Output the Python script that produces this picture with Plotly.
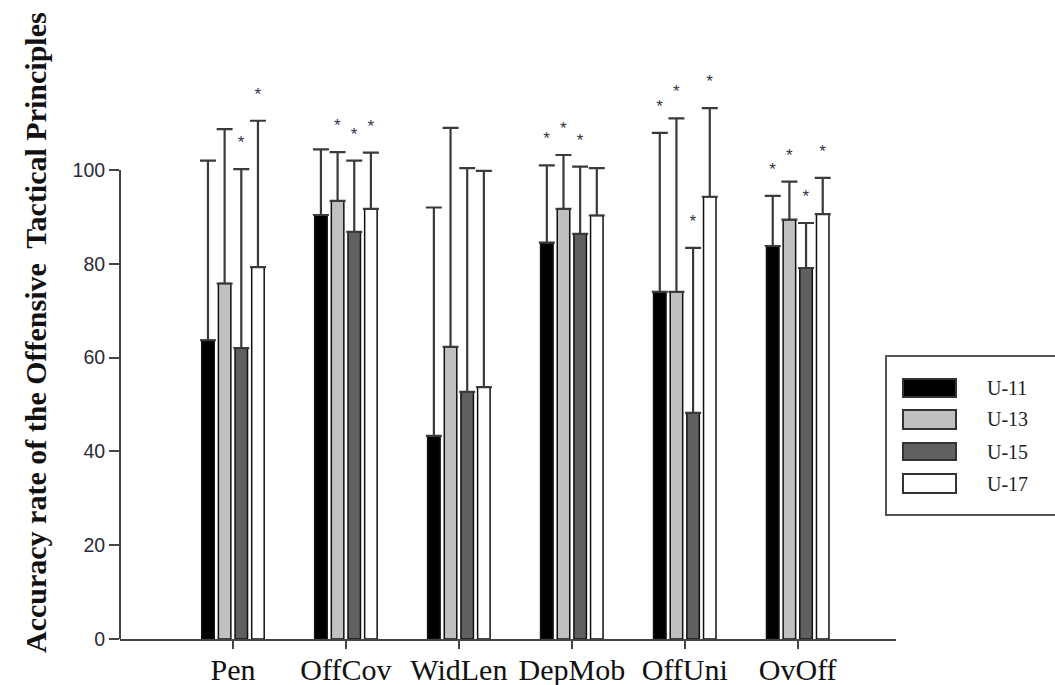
import plotly.graph_objects as go

categories = ["Pen", "OffCov", "WidLen", "DepMob", "OffUni", "OvOff"]
groups = ["U-11", "U-13", "U-15", "U-17"]

u11_mean = [63.7, 90.4, 43.3, 84.5, 74.0, 83.8]
u13_mean = [75.8, 93.4, 62.3, 91.7, 74.0, 89.4]
u15_mean = [62.0, 86.8, 52.7, 86.4, 48.2, 79.1]
u17_mean = [79.3, 91.7, 53.7, 90.3, 94.3, 90.6]

u11_sd = [38.3, 14.0, 48.7, 16.5, 33.9, 10.7]
u13_sd = [32.9, 10.4, 46.7, 11.5, 37.0, 8.1]
u15_sd = [38.2, 15.2, 47.7, 14.3, 35.2, 9.6]
u17_sd = [31.2, 12.0, 46.1, 10.1, 18.9, 7.7]

# significance markers (1 = asterisk shown)
u11_sig = [0, 0, 0, 1, 1, 1]
u13_sig = [0, 1, 0, 1, 1, 1]
u15_sig = [1, 1, 0, 1, 1, 1]
u17_sig = [1, 1, 0, 0, 1, 1]

y_ticks = [0, 20, 40, 60, 80, 100]

means = [u11_mean, u13_mean, u15_mean, u17_mean]
sds = [u11_sd, u13_sd, u15_sd, u17_sd]
sigs = [u11_sig, u13_sig, u15_sig, u17_sig]
fills = ["#000000", "#c0c0c0", "#606060", "#ffffff"]

W, H = 1055, 685
ML, MR, MT, MB = 120, 159, 30, 46
PW, PH = W - ML - MR, H - MT - MB
PX_PER_UNIT = 4.69
YMAX = PH / PX_PER_UNIT
STAR_GAP = 3.0  # gap (data units) between error cap and asterisk


def px(x):
    return (x - ML) / PW


def py(y):
    return (H - MB - y) / PH


fig = go.Figure()

for g, m, s, sig, c in zip(groups, means, sds, sigs, fills):
    fig.add_trace(go.Bar(
        x=categories, y=m, name=g, offsetgroup=g,
        marker=dict(color=c, line=dict(color="#111111", width=1.5)),
        error_y=dict(type="data", array=s, symmetric=False,
                     arrayminus=[0] * len(s), color="#3a3a3a",
                     thickness=2.2, width=8),
        showlegend=False,
    ))

for g, m, s, sig in zip(groups, means, sds, sigs):
    upper = [mm + ss for mm, ss in zip(m, s)]
    fig.add_trace(go.Bar(
        x=categories, y=[STAR_GAP] * len(upper), base=upper, offsetgroup=g,
        marker=dict(color="rgba(0,0,0,0)", line=dict(width=0)),
        text=["*" if f else "" for f in sig],
        textposition="outside",
        textfont=dict(family="Liberation Sans", size=17, color="#333344"),
        cliponaxis=False, showlegend=False, hoverinfo="skip",
    ))

shapes = []
# y axis line from 0 to 100
shapes.append(dict(type="line", xref="paper", yref="y", x0=0, x1=0,
                   y0=0, y1=100, line=dict(color="#444444", width=2)))

# manual legend
shapes.append(dict(type="rect", xref="paper", yref="paper",
                   x0=px(886), x1=px(1062), y0=py(515), y1=py(356),
                   line=dict(color="#555555", width=2), fillcolor="white"))
rows = [(379, 397), (410, 429), (443, 460), (474, 493)]
annotations = []
for (t, b), c, g in zip(rows, fills, groups):
    shapes.append(dict(type="rect", xref="paper", yref="paper",
                       x0=px(903), x1=px(956), y0=py(b), y1=py(t),
                       line=dict(color="#333333", width=2), fillcolor=c))
    annotations.append(dict(xref="paper", yref="paper", x=px(985),
                            y=py((t + b) / 2), text=g, showarrow=False,
                            xanchor="left", yanchor="middle",
                            font=dict(family="Liberation Serif", size=20,
                                      color="#222222")))

annotations.append(dict(xref="paper", yref="paper", x=px(36), y=py(333),
                        text="<b>Accuracy rate of the Offensive  Tactical Principles</b>",
                        textangle=-90, showarrow=False,
                        xanchor="center", yanchor="middle",
                        font=dict(family="Liberation Serif", size=30,
                                  color="#111111")))

fig.update_layout(
    width=W, height=H,
    margin=dict(l=ML, r=MR, t=MT, b=MB),
    template="none",
    paper_bgcolor="white", plot_bgcolor="white",
    barmode="group", bargap=0.41, bargroupgap=0.25,
    shapes=shapes, annotations=annotations,
    showlegend=False,
)
fig.update_xaxes(
    type="category", range=[-1.0, 5.87], automargin=False,
    showline=True, linecolor="#444444", linewidth=2,
    ticks="outside", ticklen=8, tickwidth=2, tickcolor="#444444",
    showgrid=False, zeroline=False, ticklabelstandoff=-5,
    tickfont=dict(family="Liberation Serif", size=30, color="#111111"),
)
fig.update_yaxes(
    range=[0, YMAX], automargin=False,
    tickvals=y_ticks, ticktext=[str(v) for v in y_ticks],
    showline=False, showgrid=False, zeroline=False,
    ticks="outside", ticklen=10, tickwidth=2, tickcolor="#444444",
    tickfont=dict(family="Liberation Sans", size=19.5, color="#2a2a3a"),
)

fig.write_html("out.html",
               config={"displayModeBar": False},
               post_script="document.body.style.margin='0px';"
                           "document.body.style.overflow='hidden';")
